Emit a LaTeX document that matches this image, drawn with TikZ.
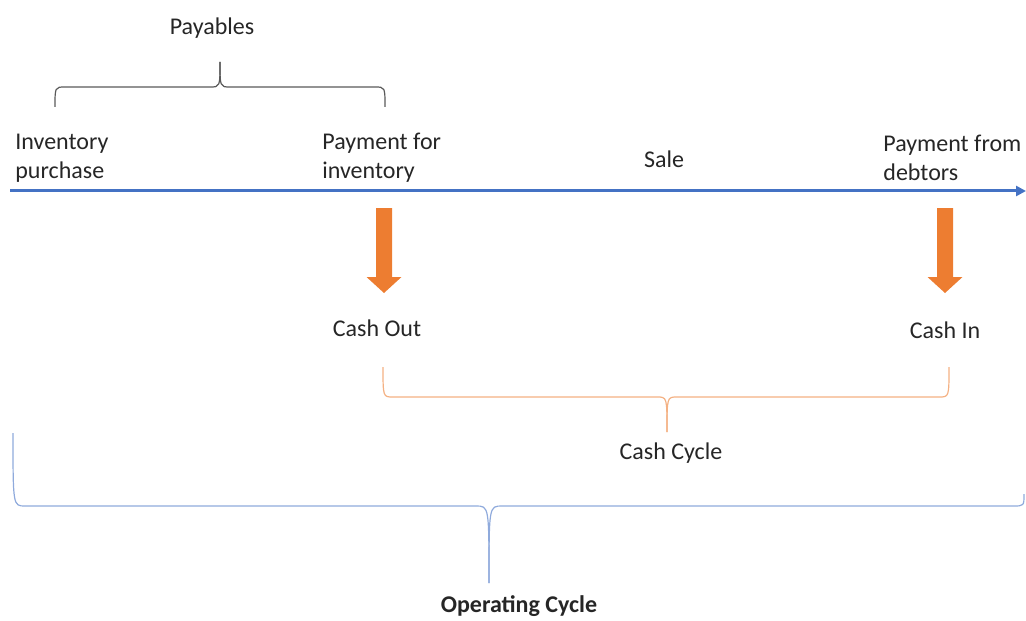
\documentclass[tikz,border=0pt]{standalone}
\usepackage{fontspec}
\setmainfont{Carlito}
\usetikzlibrary{arrows.meta}
\definecolor{axisblue}{HTML}{4472C4}
\definecolor{braceblue}{HTML}{8FAADC}
\definecolor{cashorange}{HTML}{ED7D31}
\definecolor{braceorange}{HTML}{F4B183}
\definecolor{bracegray}{HTML}{595959}
\definecolor{txtgray}{HTML}{262626}
\tikzset{
  lbl/.style={font=\fontsize{12}{14.5}\selectfont, text=txtgray, inner sep=0pt, align=left},
  brace/.style={line width=0.6pt}
}

\begin{document}
\begin{tikzpicture}[x=0.5pt,y=-0.5pt]
  \useasboundingbox (0,0) rectangle (1026,620);

  % time line
  \coordinate (t0) at (10,191);
  \coordinate (t1) at (1026,191);
  \draw[axisblue,line width=1.5pt,-{Triangle[length=5pt,width=5pt]}] (t0) -- (t1);

  \node[lbl,anchor=west] (inv) at (15,158) {Inventory\\purchase};
  \node[lbl,anchor=west] (payinv) at (322,158) {Payment for\\inventory};
  \node[lbl] (sale) at (664,159) {Sale};
  \node[lbl,anchor=west] (paydeb) at (883,158) {Payment from\\debtors};

  % payables brace
  \node[lbl] (payables) at (212,28) {Payables};
  \draw[brace,bracegray] (55,107) .. controls (55,87) .. (65,87) -- (210,87) .. controls (220,87) .. (220,62);
  \draw[brace,bracegray] (385,107) .. controls (385,87) .. (375,87) -- (230,87) .. controls (220,87) .. (220,62);

  % cash arrows
  \foreach \x in {384,945}
    \fill[cashorange] (\x-8,208) -- (\x+8,208) -- (\x+8,277) -- (\x+17.5,277)
      -- (\x,293) -- (\x-17.5,277) -- (\x-8,277) -- cycle;
  \node[lbl] (cashout) at (377,328) {Cash Out};
  \node[lbl] (cashin) at (945,330) {Cash In};

  % cash cycle brace
  \draw[brace,braceorange] (383,367) .. controls (383,397) .. (393,397) -- (657,397) .. controls (667,397) .. (667,432);
  \draw[brace,braceorange] (949,367) .. controls (949,397) .. (939,397) -- (677,397) .. controls (667,397) .. (667,432);
  \node[lbl] (cashcyc) at (671,453) {Cash Cycle};

  % operating cycle brace
  \draw[brace,braceblue] (13,433) .. controls (13,506) .. (25,506) -- (476,506) .. controls (489,506) .. (489,583);
  \draw[brace,braceblue] (1024,494) .. controls (1024,506) .. (1013,506) -- (502,506) .. controls (489,506) .. (489,583);
  \node[lbl,font=\fontsize{12}{14.5}\selectfont\bfseries] (opcyc) at (519,606) {Operating Cycle};
\end{tikzpicture}
\end{document}
